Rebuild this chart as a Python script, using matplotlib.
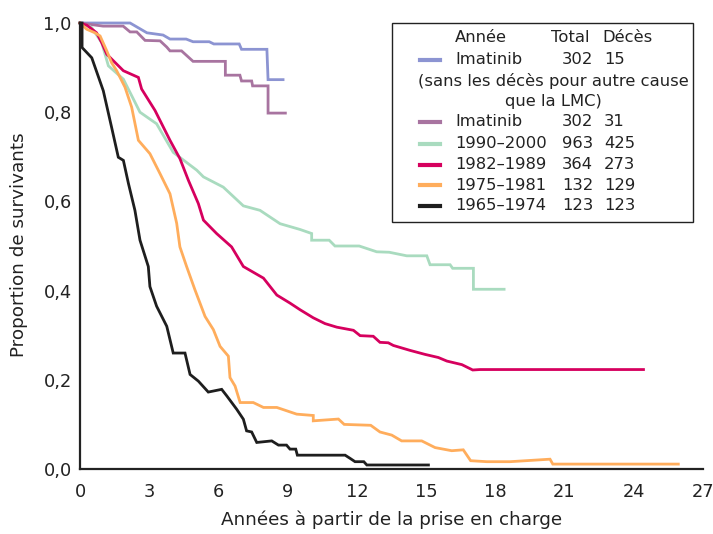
import matplotlib
matplotlib.use('Agg')
import matplotlib.pyplot as plt
from matplotlib.lines import Line2D
from matplotlib.patches import Rectangle

plt.rcParams['font.family'] = ['DejaVu Sans']

# Survival curves (years, proportion)
ima15_x = [0, 2.17, 2.9, 3.6, 3.9, 4.6, 4.9, 5.6, 5.8, 6.9, 7.0, 8.1, 8.15, 8.8]
ima15_y = [1.0, 1.0, 0.978, 0.973, 0.964, 0.964, 0.958, 0.958, 0.953, 0.953, 0.941, 0.941, 0.873, 0.873]

ima31_x = [0, 1.0, 1.87, 2.17, 2.46, 2.82, 3.47, 3.76, 3.9, 4.4, 4.9, 6.3, 6.3, 6.93, 7.0, 7.44, 7.48, 8.15, 8.15, 8.9]
ima31_y = [1.0, 0.993, 0.993, 0.98, 0.98, 0.961, 0.96, 0.946, 0.9375, 0.9375, 0.914, 0.914, 0.883, 0.883, 0.87, 0.87,
           0.859, 0.859, 0.798, 0.798]

p1990_x = [0, 0.5, 0.94, 1.23, 1.88, 2.6, 3.32, 4.04, 5.06, 5.35, 6.21, 7.08, 7.8, 8.67, 9.54, 10.04, 10.04, 10.8,
           11.05, 12.1, 12.86, 13.4, 14.16, 15.03, 15.17, 16.04, 16.15, 17.05, 17.05, 18.38]
p1990_y = [1.0, 0.99, 0.956, 0.904, 0.874, 0.80, 0.774, 0.71, 0.67, 0.655, 0.632, 0.59, 0.58, 0.55, 0.537, 0.528,
           0.513, 0.513, 0.5, 0.5, 0.487, 0.486, 0.478, 0.478, 0.458, 0.458, 0.45, 0.45, 0.403, 0.403]

p1982_x = [0, 0.3, 0.72, 0.94, 1.16, 1.88, 2.53, 2.67, 3.25, 3.9, 4.33, 4.7, 5.13, 5.35, 5.92, 6.57, 7.08, 7.95,
           8.53, 9.1, 9.54, 10.11, 10.62, 11.13, 11.85, 12.14, 12.71, 13.0, 13.36, 13.58, 14.3, 14.95, 15.53, 15.9,
           16.55, 17.02, 17.34, 24.42]
p1982_y = [1.0, 0.995, 0.978, 0.956, 0.93, 0.893, 0.878, 0.852, 0.804, 0.737, 0.696, 0.647, 0.595, 0.558, 0.528,
           0.498, 0.454, 0.428, 0.39, 0.372, 0.357, 0.339, 0.326, 0.318, 0.311, 0.299, 0.2976, 0.284, 0.283, 0.277,
           0.266, 0.257, 0.25, 0.242, 0.234, 0.222, 0.223, 0.223]

p1975_x = [0, 0.29, 0.65, 0.87, 1.16, 1.37, 1.59, 1.95, 2.24, 2.53, 3.03, 3.47, 3.9, 4.19, 4.33, 4.62, 4.98, 5.42,
           5.78, 6.07, 6.43, 6.5, 6.72, 6.94, 7.51, 7.95, 8.53, 9.39, 10.11, 10.11, 11.2, 11.45, 12.6, 13.0, 13.51,
           13.94, 14.81, 15.39, 16.11, 16.61, 16.93, 17.63, 18.64, 20.37, 20.49, 25.93]
p1975_y = [1.0, 0.986, 0.978, 0.971, 0.9375, 0.911, 0.893, 0.856, 0.811, 0.737, 0.707, 0.662, 0.617, 0.551, 0.498,
           0.454, 0.402, 0.342, 0.3125, 0.275, 0.253, 0.205, 0.186, 0.149, 0.149, 0.138, 0.138, 0.123, 0.12, 0.108,
           0.112, 0.1, 0.098, 0.083, 0.076, 0.063, 0.063, 0.048, 0.041, 0.043, 0.0186, 0.0164, 0.0164, 0.022, 0.011,
           0.011]

p1965_x = [0, 0.09, 0.09, 0.51, 1.01, 1.37, 1.66, 1.88, 2.1, 2.38, 2.6, 2.96, 3.03, 3.32, 3.76, 4.04, 4.55, 4.77,
           5.13, 5.56, 6.14, 6.36, 6.79, 7.08, 7.22, 7.44, 7.66, 8.31, 8.6, 8.95, 9.1, 9.35, 9.42, 11.49, 11.7, 11.92,
           12.3, 12.43, 15.1]
p1965_y = [1.0, 1.0, 0.945, 0.922, 0.848, 0.766, 0.699, 0.692, 0.64, 0.58, 0.513, 0.454, 0.409, 0.365, 0.32, 0.26,
           0.26, 0.212, 0.197, 0.1725, 0.1786, 0.164, 0.134, 0.1116, 0.0855, 0.083, 0.0595, 0.063, 0.0536, 0.0536,
           0.0446, 0.0446, 0.031, 0.031, 0.024, 0.0164, 0.0164, 0.009, 0.009]

# legend table
labels = ['Imatinib', 'Imatinib', '1990–2000', '1982–1989', '1975–1981', '1965–1974']
totals = ['302', '302', '963', '364', '132', '123']
deaths = ['15', '31', '425', '273', '129', '123']
colors = ['#8c94d2', '#a874a0', '#a9dbbf', '#d6005e', '#ffad5c', '#1e1e1e']

x_ticks = [0, 3, 6, 9, 12, 15, 18, 21, 24, 27]
y_ticks = [0.0, 0.2, 0.4, 0.6, 0.8, 1.0]

W, H = 713, 534
fig = plt.figure(figsize=(W / 100, H / 100), dpi=100)
ax = fig.add_axes([80 / W, 1 - 469 / H, 623 / W, 446 / H])

curves = [(ima15_x, ima15_y), (ima31_x, ima31_y), (p1990_x, p1990_y),
          (p1982_x, p1982_y), (p1975_x, p1975_y), (p1965_x, p1965_y)]
for (xs, ys), c in zip(curves, colors):
    ax.plot(xs, ys, color=c, lw=2.0, clip_on=False, solid_joinstyle='miter')

ax.set_xlim(0, 27)
ax.set_ylim(0, 1.0)
ax.set_xticks(x_ticks)
ax.set_xticklabels([str(t) for t in x_ticks])
ax.set_yticks(y_ticks)
ax.set_yticklabels([('%.1f' % t).replace('.', ',') for t in y_ticks])
ax.tick_params(length=0, labelsize=12.8, colors='#222222')
ax.tick_params(axis='x', pad=10)
ax.tick_params(axis='y', pad=6)
for s in ['top', 'right']:
    ax.spines[s].set_visible(False)
for s in ['left', 'bottom']:
    ax.spines[s].set_linewidth(1.6)
    ax.spines[s].set_color('#222222')

ax.set_xlabel('Années à partir de la prise en charge', fontsize=13.2, color='#222222')
ax.xaxis.label.set_va('center')
ax.xaxis.set_label_coords(0.5, (469 - 520) / 446)
ax.set_ylabel('Proportion de survivants', fontsize=13.2, color='#222222')
ax.yaxis.label.set_va('center')
ax.yaxis.set_label_coords((19 - 80) / 623, (469 - 245) / 446)


def fx(p):
    return p / W


def fy(p):
    return 1 - p / H


# hand-built legend box
fig.patches.append(Rectangle((fx(392), fy(222)), 301 / W, 199 / H, transform=fig.transFigure,
                             fill=False, ec='#222222', lw=1.0))
fs = 11.8
fig.text(fx(455), fy(38), 'Année', fontsize=fs, va='center', color='#222222')
fig.text(fx(551), fy(38), 'Total', fontsize=fs, va='center', color='#222222')
fig.text(fx(602), fy(38), 'Décès', fontsize=fs, va='center', color='#222222')
row_y = [60, 122, 143.5, 164.5, 185, 205.5]
for i in range(len(labels)):
    y = row_y[i]
    fig.lines.append(Line2D([fx(420), fx(440)], [fy(y), fy(y)], transform=fig.transFigure,
                            color=colors[i], lw=3))
    fig.text(fx(455), fy(y), labels[i], fontsize=fs, va='center', color='#222222')
    fig.text(fx(593), fy(y), totals[i], fontsize=fs, va='center', ha='right', color='#222222')
    fig.text(fx(604), fy(y), deaths[i], fontsize=fs, va='center', color='#222222')
fig.text(fx(553), fy(81), '(sans les décès pour autre cause', fontsize=fs, va='center', ha='center',
         color='#222222')
fig.text(fx(553), fy(101.5), 'que la LMC)', fontsize=fs, va='center', ha='center', color='#222222')

fig.savefig('out.png', dpi=100)
